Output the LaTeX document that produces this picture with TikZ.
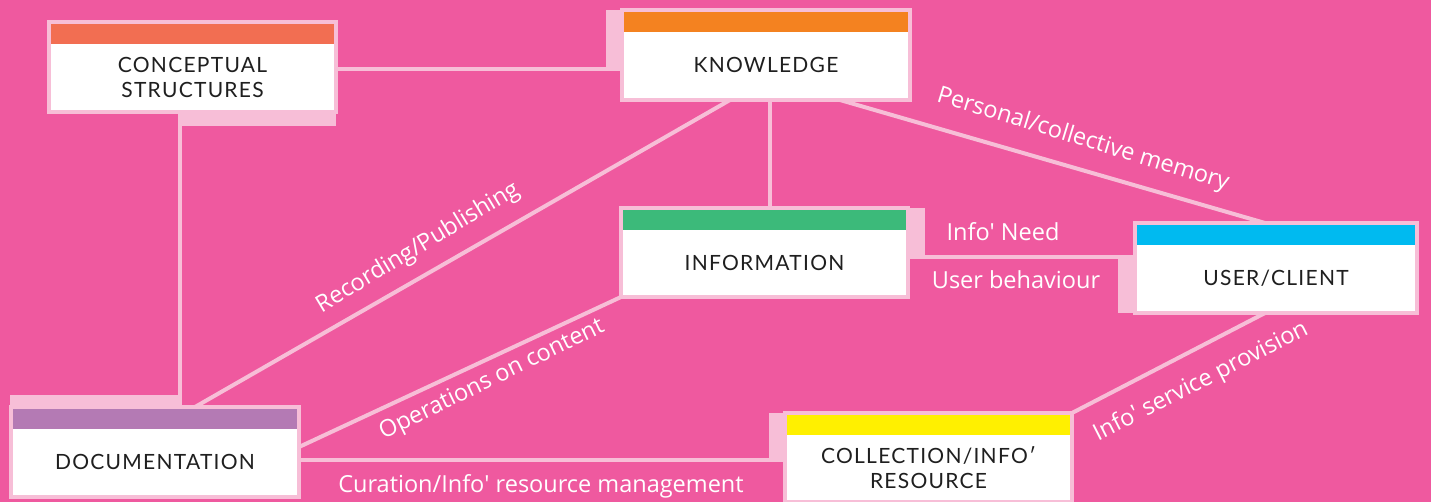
\documentclass[tikz,border=0pt]{standalone}
\usepackage{fontspec}
\setmainfont{Open Sans}
\newfontfamily\boxfont[LetterSpace=6]{Lato}
\definecolor{bgpink}{RGB}{239,89,159}
\definecolor{lpink}{RGB}{247,190,215}
\definecolor{ccs}{RGB}{242,110,82}
\definecolor{ckn}{RGB}{244,130,32}
\definecolor{cinf}{RGB}{60,186,122}
\definecolor{cusr}{RGB}{0,186,240}
\definecolor{cdoc}{RGB}{180,122,180}
\definecolor{ccol}{RGB}{255,240,0}
\begin{document}
\begin{tikzpicture}[x=1pt,y=-1pt,
  box/.style={rectangle,draw=lpink,line width=4pt,fill=white,inner sep=0pt,
              minimum width=283pt,minimum height=86pt},
  boxtext/.style={font=\boxfont\fontsize{21}{25}\selectfont,text=black!88,align=center,inner sep=0pt},
  conn/.style={draw=lpink,line width=4pt},
  blk/.style={fill=lpink},
  lbl/.style={font=\fontsize{23.5}{27}\selectfont,text=white,inner sep=0pt}]
\useasboundingbox (0,0) rectangle (1431,502);
\fill[bgpink] (0,0) rectangle (1431,502);

% box nodes (placed first so anchors exist; drawn on top later)
\path (192.5,67) node[box,draw=none,fill=none] (cs) {}
      (766,55) node[box,draw=none,fill=none,minimum width=284pt] (kn) {}
      (764.5,252.5) node[box,draw=none,fill=none,minimum height=85pt] (inf) {}
      (1276,268) node[box,draw=none,fill=none,minimum width=278pt] (usr) {}
      (155,452) node[box,draw=none,fill=none,minimum width=284pt] (doc) {}
      (928.5,457.5) node[box,draw=none,fill=none,minimum height=85pt] (col) {};

% connector blocks
\fill[blk] (178,112) rectangle (336,126);
\fill[blk] (10,395) rectangle (182,408);
\fill[blk] (606,10) rectangle (622,71);
\fill[blk] (908,208) rectangle (925,258);
\fill[blk] (1118,257) rectangle (1135,313);
\fill[blk] (769,413) rectangle (785,462);

% connectors
\draw[conn] ([xshift=-12.5pt]cs.south) -- ([xshift=-12.5pt]cs.south |- doc.north);
\draw[conn] ([yshift=-2pt]cs.east) -- ([yshift=-2pt]cs.east -| kn.west);
\draw[conn] ([xshift=4pt]kn.south) -- ([xshift=4pt]kn.south |- inf.north);
\draw[conn] ([xshift=74pt]kn.south) -- ([xshift=-11pt]usr.north);
\draw[conn] ([xshift=40pt]doc.north) -- ([xshift=-36pt]kn.south);
\draw[conn] ([yshift=5pt]doc.east) -- (inf.south west);
\draw[conn] ([yshift=-8pt]doc.east) -- ([yshift=-8pt]doc.east -| col.west);
\draw[conn] ([yshift=-5pt]inf.east) -- ([yshift=-5pt]inf.east -| usr.west);
\draw[conn] ([xshift=-11pt]usr.south) -- (col.north east);

% boxes
\foreach \n/\c in {cs/ccs,kn/ckn,inf/cinf,usr/cusr,doc/cdoc,col/ccol}{
  \draw[lpink,line width=4pt,fill=white] (\n.north west) rectangle (\n.south east);
  \fill[\c] ([shift={(2pt,-2pt)}]\n.north west) rectangle ([shift={(-2pt,-22pt)}]\n.north east);
}

% box texts
\node[boxtext] (cst) at ([yshift=-10pt]cs.center) {CONCEPTUAL\\STRUCTURES};
\node[boxtext] (knt) at ([yshift=-10pt]kn.center) {KNOWLEDGE};
\node[boxtext] (inft) at ([yshift=-10pt]inf.center) {INFORMATION};
\node[boxtext] (usrt) at ([yshift=-10pt]usr.center) {USER/CLIENT};
\node[boxtext] (doct) at ([yshift=-10pt]doc.center) {DOCUMENTATION};
\node[boxtext] (colt) at ([yshift=-10pt]col.center) {COLLECTION/INFO′\\RESOURCE};

% labels
\node[lbl,rotate=31] (l1) at (418,248) {Recording/Publishing};
\node[lbl,rotate=26] (l2) at (492,380) {Operations on content};
\node[lbl] (l3) at (541,486) {Curation/Info′ resource management};
\node[lbl] (l4) at (1003,232) {Info′ Need};
\node[lbl] (l5) at (1016,280) {User behaviour};
\node[lbl,rotate=-17] (l6) at (1083,140) {Personal/collective memory};
\node[lbl,rotate=27] (l7) at (1201,382) {Info′ service provision};
\end{tikzpicture}
\end{document}
